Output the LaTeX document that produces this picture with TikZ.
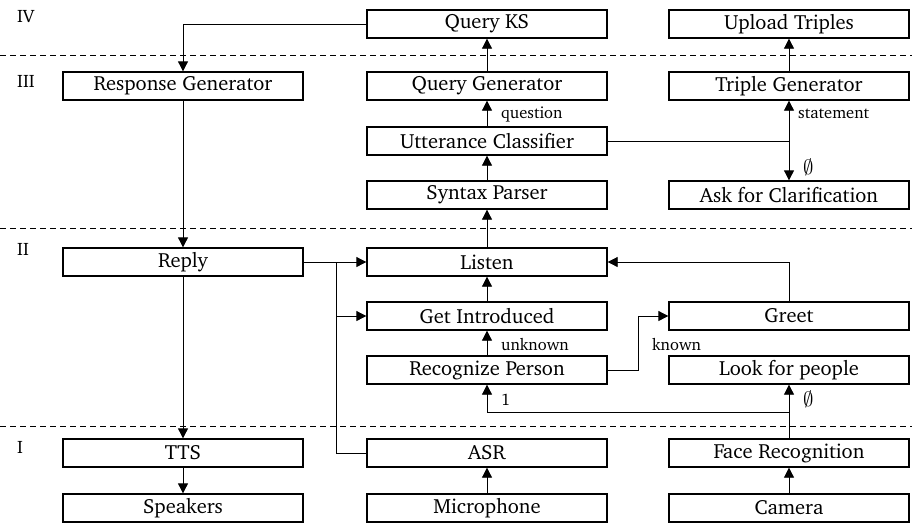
\documentclass[tikz,border=0pt]{standalone}
\usepackage[T1]{fontenc}
\usepackage{charter}
\usetikzlibrary{arrows.meta}
\begin{document}
\begin{tikzpicture}[x=1pt,y=-1pt,
  box/.style={draw, line width=1.3pt, minimum width=240pt, minimum height=28pt,
    inner sep=0pt, font=\fontsize{20.5}{22}\selectfont},
  link/.style={line width=0.8pt, -{Triangle[length=10pt,width=10pt]}},
  plain/.style={line width=0.8pt},
  lbl/.style={font=\fontsize{16.5}{18}\selectfont, inner sep=0pt, anchor=west},
  nul/.style={font=\fontsize{22}{24}\selectfont, inner sep=0pt, anchor=west},
  layer/.style={font=\fontsize{18}{20}\selectfont, anchor=north west, inner sep=0pt},
  sep/.style={line width=0.8pt, dash pattern=on 6pt off 4pt}]
\useasboundingbox (0,0) rectangle (912,523);

% layer separators
\coordinate (d1l) at (0,55);   \coordinate (d1r) at (912,55);
\coordinate (d2l) at (0,228);  \coordinate (d2r) at (912,228);
\coordinate (d3l) at (0,426);  \coordinate (d3r) at (912,426);
\draw[sep] (d1l) -- (d1r);
\draw[sep] (d2l) -- (d2r);
\draw[sep] (d3l) -- (d3r);

% layer numbers
\node[layer] (l4) at (17,10)  {IV};
\node[layer] (l3) at (17,75)  {III};
\node[layer] (l2) at (17,243) {II};
\node[layer] (l1) at (17,441) {I};

% components
\node[box] (qks)    at (487,24)  {Query KS};
\node[box] (upl)    at (789,24)  {Upload Triples};
\node[box] (resp)   at (183,86)  {Response Generator};
\node[box] (qgen)   at (487,86)  {Query Generator};
\node[box] (tgen)   at (789,86)  {Triple Generator};
\node[box] (ucls)   at (487,141) {Utterance Classifier};
\node[box] (syn)    at (487,195) {Syntax Parser};
\node[box] (clar)   at (789,195) {Ask for Clarification};
\node[box] (reply)  at (183,262) {Reply};
\node[box] (listen) at (487,262) {Listen};
\node[box] (intro)  at (487,316) {Get Introduced};
\node[box] (greet)  at (789,316) {Greet};
\node[box] (recog)  at (487,370) {Recognize Person};
\node[box] (look)   at (789,370) {Look for people};
\node[box] (tts)    at (183,453) {TTS};
\node[box] (asr)    at (487,453) {ASR};
\node[box] (face)   at (789,453) {Face Recognition};
\node[box] (spk)    at (183,508) {Speakers};
\node[box] (mic)    at (487,508) {Microphone};
\node[box] (cam)    at (789,508) {Camera};

% junction points
\coordinate (ucj)  at (789,141);
\coordinate (bus)  at (336,262);
\coordinate (busi) at (336,316);
\coordinate (kn)   at (638,370);
\coordinate (fj)   at (789,412);

% connectors
\draw[link] (qks.west) -| (resp.north);
\draw[link] (resp.south) -- (reply.north);
\draw[link] (reply.south) -- (tts.north);
\draw[link] (tts.south) -- (spk.north);
\draw[link] (qgen.north) -- (qks.south);
\draw[link] (ucls.north) -- (qgen.south);
\draw[link] (syn.north) -- (ucls.south);
\draw[link] (listen.north) -- (syn.south);
\draw[plain] (ucls.east) -- (ucj);
\draw[link] (ucj) -- (tgen.south);
\draw[link] (ucj) -- (clar.north);
\draw[link] (tgen.north) -- (upl.south);
\draw[link] (reply.east) -- (listen.west);
\draw[plain] (asr.west) -| (bus);
\draw[link] (busi) -- (intro.west);
\draw[link] (intro.north) -- (listen.south);
\draw[link] (recog.north) -- (intro.south);
\draw[link] (recog.east) -- (kn) |- (greet.west);
\draw[link] (greet.north) |- (listen.east);
\draw[link] (face.north) -- (look.south);
\draw[link] (fj) -| (recog.south);
\draw[link] (mic.north) -- (asr.south);
\draw[link] (cam.north) -- (face.south);

% branch labels
\node[lbl] (tq) at (501,114) {question};
\node[lbl] (ts) at (798,114) {statement};
\node[nul] (te) at (803,167) {$\emptyset$};
\node[lbl] (tu) at (501,344) {unknown};
\node[lbl] (tk) at (652,344) {known};
\node[lbl] (t1) at (501,400) {1};
\node[nul] (tf) at (803,399) {$\emptyset$};
\end{tikzpicture}
\end{document}
